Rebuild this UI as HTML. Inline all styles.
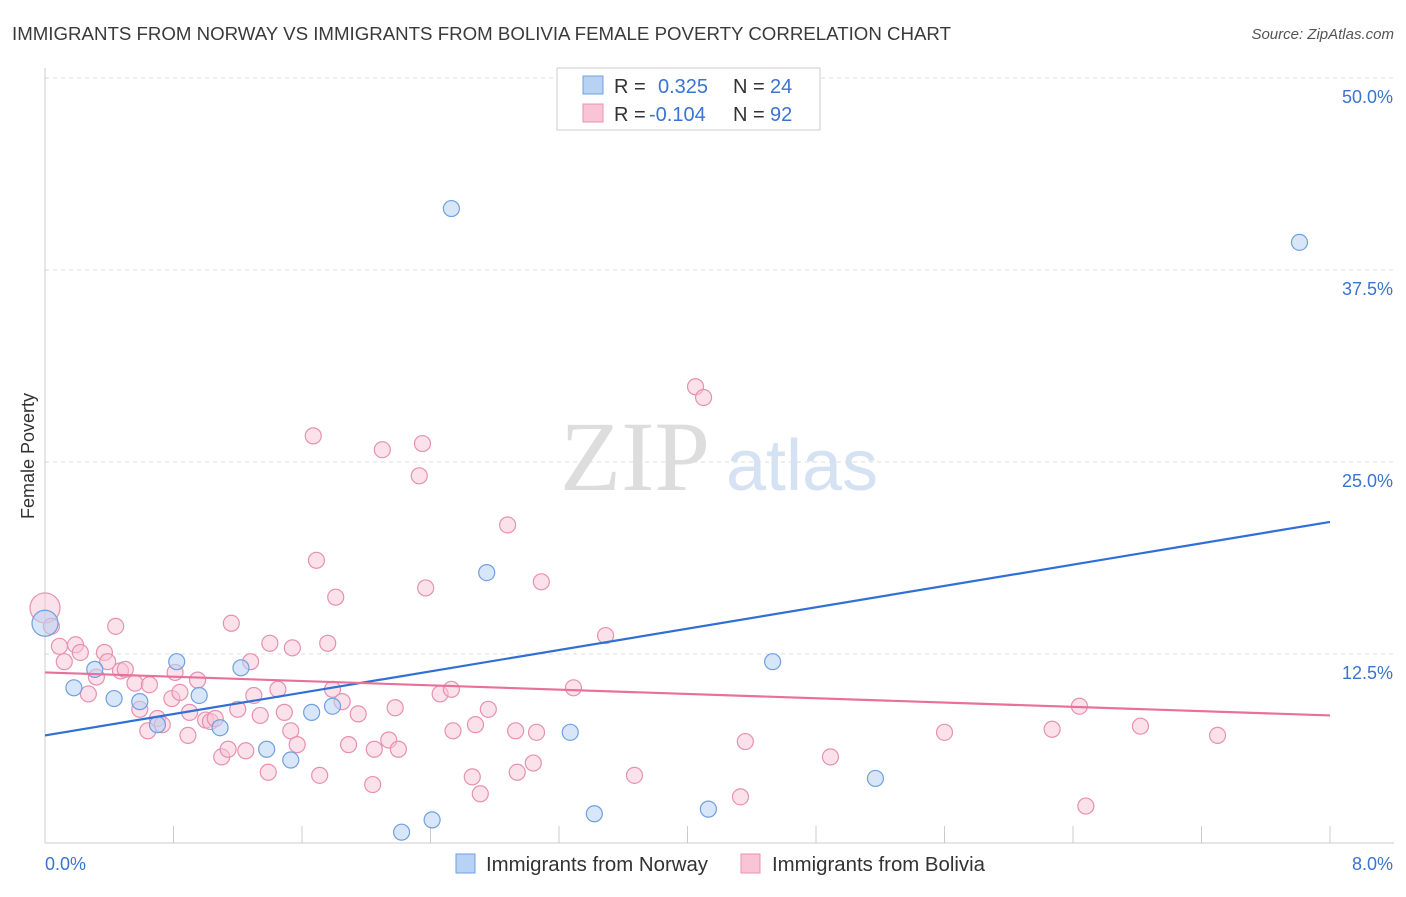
<!DOCTYPE html>
<html><head><meta charset="utf-8"><style>
body{margin:0;background:#fff;font-family:"Liberation Sans",sans-serif;}
svg text{font-family:"Liberation Sans",sans-serif;}
</style></head><body>
<svg id="c" width="1406" height="892">
<text x="12" y="40" font-size="18" fill="#3a3a3a" textLength="939" lengthAdjust="spacingAndGlyphs">IMMIGRANTS FROM NORWAY VS IMMIGRANTS FROM BOLIVIA FEMALE POVERTY CORRELATION CHART</text>
<text x="1394" y="39" font-size="15" fill="#555" font-style="italic" text-anchor="end">Source: ZipAtlas.com</text>
<text x="34" y="456" font-size="18" fill="#333" text-anchor="middle" transform="rotate(-90 34 456)">Female Poverty</text>
<g><text x="635" y="490" font-size="100" fill="#ddd" style="font-family:'Liberation Serif',serif" text-anchor="middle">ZIP</text><text x="802" y="490" font-size="72" fill="#d4e2f4" text-anchor="middle">atlas</text></g>
<g id="grid"></g><g id="pts"></g><g id="trend"></g>
<g>
<rect x="557" y="68" width="263" height="62" fill="#fff" stroke="#ccc"/>
<rect x="583" y="76" width="20" height="18" fill="#b8d2f4" stroke="#6fa0e0"/>
<text x="614" y="93" font-size="20" fill="#333">R =</text><text x="658" y="93" font-size="20" fill="#3a74d0">0.325</text>
<text x="733" y="93" font-size="20" fill="#333">N =</text><text x="770" y="93" font-size="20" fill="#3a74d0">24</text>
<rect x="583" y="104" width="20" height="18" fill="#f8c4d6" stroke="#e890b0"/>
<text x="614" y="121" font-size="20" fill="#333">R =</text><text x="649" y="121" font-size="20" fill="#3a74d0">-0.104</text>
<text x="733" y="121" font-size="20" fill="#333">N =</text><text x="770" y="121" font-size="20" fill="#3a74d0">92</text>
</g>
<g>
<rect x="456" y="854" width="19" height="19" fill="#b8d2f4" stroke="#6fa0e0"/>
<text x="486" y="871" font-size="20" fill="#333" textLength="222" lengthAdjust="spacingAndGlyphs">Immigrants from Norway</text>
<rect x="741" y="854" width="19" height="19" fill="#f8c4d6" stroke="#e890b0"/>
<text x="772" y="871" font-size="20" fill="#333" textLength="213" lengthAdjust="spacingAndGlyphs">Immigrants from Bolivia</text>
</g>
</svg>
<script>
const yTicks=[12.5,25,37.5,50];
const yTickLabels=["12.5%","25.0%","37.5%","50.0%"];
const xTickLabels=["0.0%","8.0%"];
const norwayX=[0.0,0.18,0.31,0.43,0.59,0.70,0.82,0.96,1.09,1.22,1.38,1.53,1.66,1.79,2.22,2.41,2.53,2.75,3.27,3.42,4.13,4.53,5.17,7.81];
const norwayY=[14.5,10.3,11.5,9.6,9.4,7.9,12.0,9.8,7.7,11.6,6.3,5.6,8.7,9.1,0.9,1.7,41.5,17.8,7.4,2.1,2.4,12.0,4.4,39.3];
const boliviaX=[0.0,0.04,0.09,0.12,0.19,0.22,0.27,0.32,0.37,0.39,0.44,0.47,0.50,0.56,0.59,0.64,0.65,0.70,0.73,0.79,0.81,0.84,0.89,0.90,0.95,1.00,1.03,1.06,1.10,1.14,1.16,1.20,1.25,1.28,1.30,1.34,1.39,1.40,1.45,1.49,1.53,1.54,1.57,1.67,1.69,1.71,1.76,1.79,1.81,1.85,1.89,1.95,2.04,2.05,2.10,2.14,2.18,2.20,2.35,2.33,2.37,2.46,2.53,2.54,2.66,2.68,2.71,2.76,2.88,2.93,2.94,3.04,3.06,3.09,3.29,3.49,3.67,4.05,4.10,4.33,4.36,4.89,5.60,6.27,6.44,6.48,6.82,7.30];
const boliviaY=[15.5,14.3,13.0,12.0,13.1,12.6,9.9,11.0,12.6,12.0,14.3,11.4,11.5,10.6,8.9,7.5,10.5,8.3,7.9,9.6,11.3,10.0,7.2,8.7,10.8,8.2,8.1,8.3,5.8,6.3,14.5,8.9,6.2,12.0,9.8,8.5,4.8,13.2,10.2,8.7,7.5,12.9,6.6,26.7,18.6,4.6,13.2,10.2,16.2,9.4,6.6,8.6,4.0,6.3,25.8,6.9,9.0,6.3,26.2,24.1,16.8,9.9,10.2,7.5,4.5,7.9,3.4,8.9,20.9,7.5,4.8,5.4,7.4,17.2,10.3,13.7,4.6,29.9,29.2,3.2,6.8,5.8,7.4,7.6,9.1,2.6,7.8,7.2];
const trendNorway=[7.2,21.1];
const trendBolivia=[11.3,8.5];
const X0=45,X1=1330,Y0=846,YPX=192/12.5;
const sx=v=>X0+v/8*(X1-X0), sy=v=>Y0-v*YPX;
const NS="http://www.w3.org/2000/svg";
function mk(t,a,p){const e=document.createElementNS(NS,t);for(const k in a)e.setAttribute(k,a[k]);p.appendChild(e);return e;}
const svg=document.getElementById('c'),grid=document.getElementById('grid'),pts=document.getElementById('pts'),tr=document.getElementById('trend');
yTicks.forEach((v,i)=>{
 const l=mk('line',{x1:X0,x2:1394,y1:sy(v),y2:sy(v),stroke:'#ddd','stroke-dasharray':'4,4'},grid);
 
 
 const t=mk('text',{x:1393,y:sy(v)+25,'font-size':18,fill:'#3a74d0','text-anchor':'end'},grid);
 t.textContent=yTickLabels[i];
 
 
});
const ax=mk('line',{x1:X0,x2:X0,y1:68,y2:843,stroke:'#ccc'},grid);


const bx=mk('line',{x1:X0,x2:1394,y1:843,y2:843,stroke:'#ccc'},grid);


for(let i=0;i<=10;i++){const x=sx(i*0.8);const tk=mk('line',{x1:x,x2:x,y1:826,y2:843,stroke:'#ccc'},grid);
 
 }
[[0,45,'start'],[1,1393,'end']].forEach(([i,x,a])=>{const t=mk('text',{x:x,y:870,'font-size':18,fill:'#3a74d0','text-anchor':a},grid);t.textContent=xTickLabels[i];
 
 });
boliviaX.forEach((v,i)=>{const c=mk('circle',{cx:sx(v),cy:sy(boliviaY[i]),r:i==0?15:8,fill:'#f8c4d6','fill-opacity':0.5,stroke:'#e890b0','stroke-width':1.2},pts);
 
 });
norwayX.forEach((v,i)=>{const c=mk('circle',{cx:sx(v),cy:sy(norwayY[i]),r:i==0?13:8,fill:'#b8d2f4','fill-opacity':0.55,stroke:'#6fa0e0','stroke-width':1.2},pts);
 
 });
const l1=mk('line',{x1:sx(0),x2:sx(8),y1:sy(trendNorway[0]),y2:sy(trendNorway[1]),stroke:'#2f6fd6','stroke-width':2.2},tr);


const l2=mk('line',{x1:sx(0),x2:sx(8),y1:sy(trendBolivia[0]),y2:sy(trendBolivia[1]),stroke:'#e8709a','stroke-width':2.2},tr);


</script>
</body></html>
